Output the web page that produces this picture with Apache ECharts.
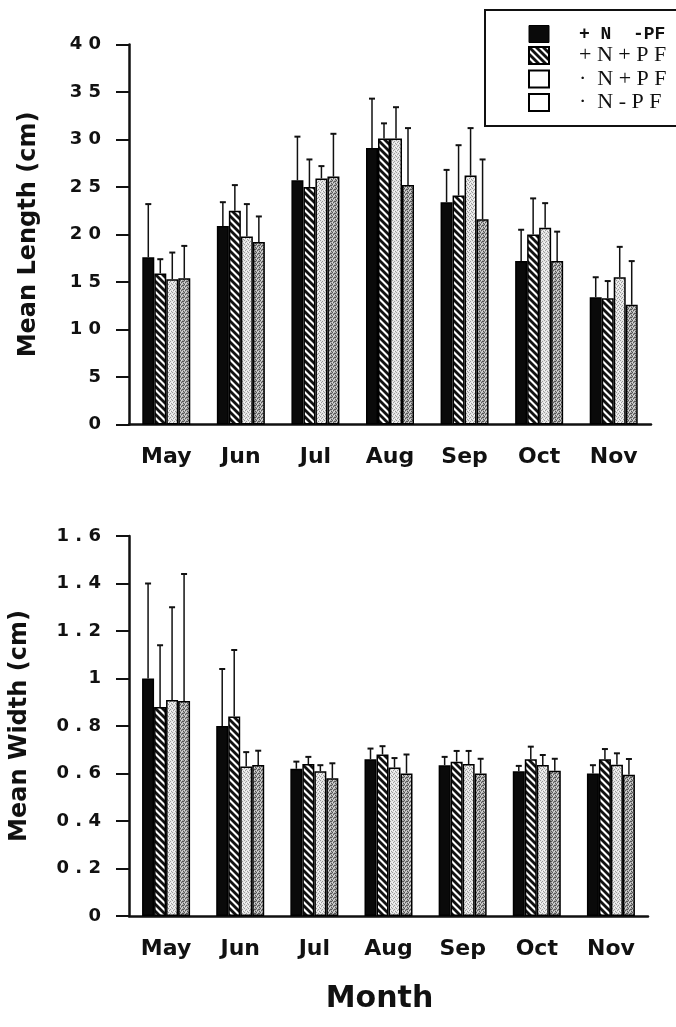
<!DOCTYPE html>
<html><head><meta charset="utf-8">
<script src="https://cdn.jsdelivr.net/npm/echarts@6/dist/echarts.min.js"></script>
<style>html,body{margin:0;padding:0;background:#fff}#c{width:676px;height:1027px}</style>
</head><body><div id="c"></div>
<script>
// ---------- DATA ----------
const months = ['May','Jun','Jul','Aug','Sep','Oct','Nov'];
const seriesNames = ['+N -PF','+N+PF','· N+PF','· N - PF'];
const legendLabels = ['+ N  -PF','+ N + P F','·  N + P F','·  N - P F'];

// Mean length (cm) and upper error (cm)
const lenPNmPF = [17.6, 20.9, 25.7, 29.1, 23.4, 17.2, 13.4];
const lenPNmPFErr = [5.6, 2.5, 4.6, 5.2, 3.4, 3.3, 2.1];
const lenPNpPF = [15.9, 22.5, 25.0, 30.1, 24.1, 20.0, 13.3];
const lenPNpPFErr = [1.5, 2.7, 2.9, 1.6, 5.3, 3.8, 1.8];
const lenMNpPF = [15.3, 19.8, 25.9, 30.1, 26.2, 20.7, 15.5];
const lenMNpPFErr = [2.8, 3.4, 1.3, 3.3, 5.0, 2.6, 3.2];
const lenMNmPF = [15.4, 19.2, 26.1, 25.2, 21.6, 17.2, 12.6];
const lenMNmPFErr = [3.4, 2.7, 4.5, 6.0, 6.3, 3.1, 4.6];

// Mean width (cm) and upper error (cm)
const widPNmPF = [1.00, 0.80, 0.62, 0.66, 0.635, 0.61, 0.60];
const widPNmPFErr = [0.40, 0.24, 0.03, 0.045, 0.035, 0.022, 0.035];
const widPNpPF = [0.88, 0.84, 0.64, 0.68, 0.65, 0.66, 0.66];
const widPNpPFErr = [0.26, 0.28, 0.03, 0.035, 0.045, 0.053, 0.043];
const widMNpPF = [0.91, 0.63, 0.61, 0.625, 0.64, 0.636, 0.637];
const widMNpPFErr = [0.39, 0.06, 0.025, 0.04, 0.055, 0.042, 0.048];
const widMNmPF = [0.905, 0.636, 0.58, 0.60, 0.60, 0.612, 0.595];
const widMNmPFErr = [0.535, 0.06, 0.063, 0.08, 0.062, 0.05, 0.066];

const lengthMeans = [lenPNmPF, lenPNpPF, lenMNpPF, lenMNmPF];
const lengthErrs = [lenPNmPFErr, lenPNpPFErr, lenMNpPFErr, lenMNmPFErr];
const widthMeans = [widPNmPF, widPNpPF, widMNpPF, widMNmPF];
const widthErrs = [widPNmPFErr, widPNpPFErr, widMNpPFErr, widMNmPFErr];

// ---------- STYLE ----------
const BAR_W = 12;
function makeCanvas(w, h, draw) {
  const c = document.createElement('canvas');
  c.width = w; c.height = h;
  draw(c.getContext('2d'));
  return c;
}
const hatch = makeCanvas(7, 7, ctx => {
  ctx.fillStyle = '#fff'; ctx.fillRect(0, 0, 7, 7);
  ctx.strokeStyle = '#111'; ctx.lineWidth = 2.8;
  for (const k of [-1, 0, 1]) {
    ctx.beginPath(); ctx.moveTo(-1, 7 * k - 1); ctx.lineTo(8, 7 * k + 8); ctx.stroke();
  }
});
const lightDots = makeCanvas(4, 4, ctx => {
  ctx.fillStyle = '#e4e4e4'; ctx.fillRect(0, 0, 4, 4);
  ctx.fillStyle = '#9c9c9c';
  [[0,0],[2,1],[1,2],[3,3]].forEach(p => ctx.fillRect(p[0], p[1], 1, 1));
  ctx.fillStyle = '#fafafa';
  [[2,3],[0,2]].forEach(p => ctx.fillRect(p[0], p[1], 1, 1));
});
const darkDots = makeCanvas(4, 4, ctx => {
  ctx.fillStyle = '#a9a9a9'; ctx.fillRect(0, 0, 4, 4);
  ctx.fillStyle = '#555';
  [[0,0],[2,1],[1,2],[3,3],[3,1]].forEach(p => ctx.fillRect(p[0], p[1], 1, 1));
  ctx.fillStyle = '#dcdcdc';
  [[2,3],[0,2],[1,0]].forEach(p => ctx.fillRect(p[0], p[1], 1, 1));
});
const fills = ['#0a0a0a', {image: hatch, repeat: 'repeat'}, {image: lightDots, repeat: 'repeat'}, {image: darkDots, repeat: 'repeat'}];
const legendIconStyles = [
  {color: '#0a0a0a', borderColor: '#000', borderWidth: 1},
  {color: {image: hatch, repeat: 'repeat'}, borderColor: '#000', borderWidth: 2},
  {color: '#fff', borderColor: '#000', borderWidth: 2},
  {color: '#fff', borderColor: '#000', borderWidth: 2}
];

const FONT = 'DejaVu Sans';
const spaced = s => String(s).split('').join(' ');

function yAxis(gridIndex, max, interval, name, nameGap, fmt) {
  return {
    type: 'value', gridIndex, min: 0, max, interval,
    name, nameLocation: 'middle', nameRotate: 90, nameGap,
    nameTextStyle: {fontFamily: FONT, fontWeight: 'bold', fontSize: 24, color: '#111'},
    axisLine: {show: true, lineStyle: {color: '#111', width: 2.5}},
    axisTick: {show: true, length: 13, lineStyle: {color: '#111', width: 2}},
    splitLine: {show: false},
    axisLabel: {margin: 28, fontFamily: FONT, fontWeight: 'bold', fontSize: 18, color: '#111', formatter: fmt}
  };
}
function xAxis(gridIndex, extra) {
  return Object.assign({
    type: 'category', gridIndex, data: months,
    axisLine: {show: true, lineStyle: {color: '#111', width: 2.5}},
    axisTick: {show: false},
    axisLabel: {margin: 22, fontFamily: FONT, fontWeight: 'bold', fontSize: 22, color: '#111'}
  }, extra || {});
}

function errSeries(gridIdx, sIdx, means, errs) {
  return {
    type: 'custom', name: 'err' + gridIdx + '_' + sIdx, xAxisIndex: gridIdx, yAxisIndex: gridIdx,
    silent: true, z: 5,
    data: means.map((m, i) => [i, m, m + errs[i]]),
    encode: {x: 0, y: [1, 2]},
    renderItem(params, api) {
      const c = api.value(0);
      const lo = api.coord([c, api.value(1)]);
      const hi = api.coord([c, api.value(2)]);
      const x = lo[0] + (sIdx - 1.5) * BAR_W;
      return {type: 'group', children: [
        {type: 'line', shape: {x1: x, y1: lo[1], x2: x, y2: hi[1]}, style: {stroke: '#111', lineWidth: 1.5}},
        {type: 'line', shape: {x1: x - 3, y1: hi[1], x2: x + 3, y2: hi[1]}, style: {stroke: '#111', lineWidth: 2}}
      ]};
    }
  };
}

const series = [];
[lengthMeans, widthMeans].forEach((group, g) => {
  group.forEach((vals, i) => {
    series.push({
      type: 'bar', name: seriesNames[i], xAxisIndex: g, yAxisIndex: g, data: vals,
      barWidth: BAR_W, barGap: '0%',
      itemStyle: {color: fills[i], borderColor: '#000', borderWidth: 1.5},
      emphasis: {disabled: true}
    });
  });
});
lengthMeans.forEach((v, i) => series.push(errSeries(0, i, v, lengthErrs[i])));
widthMeans.forEach((v, i) => series.push(errSeries(1, i, v, widthErrs[i])));

const chart = echarts.init(document.getElementById('c'), null, {renderer: 'canvas'});
chart.setOption({
  backgroundColor: '#fff',
  animation: false,
  grid: [
    {left: 129, right: 25, top: 44.5, height: 380},
    {left: 127, right: 28, top: 536, height: 380}
  ],
  legend: {
    orient: 'vertical', left: 485, top: 10, padding: [15, 45, 12.5, 43],
    itemWidth: 20, itemHeight: 17, itemGap: 1.5,
    borderColor: '#111', borderWidth: 2, selectedMode: false,
    textStyle: {fontFamily: 'Liberation Serif', fontSize: 22, color: '#111', padding: [0, 0, 0, 25]},
    formatter: name => legendLabels[seriesNames.indexOf(name)],
    data: seriesNames.map((n, i) => ({
      name: n, icon: 'rect', itemStyle: legendIconStyles[i],
      textStyle: i === 0
        ? {fontFamily: 'Liberation Mono', fontWeight: 'bold', fontSize: 18}
        : {fontFamily: 'Liberation Serif', fontSize: 22}
    }))
  },
  xAxis: [
    xAxis(0),
    xAxis(1, {name: 'Month', nameLocation: 'middle', nameGap: 68,
      nameTextStyle: {fontFamily: FONT, fontWeight: 'bold', fontSize: 30, color: '#111', padding: [0, 18, 0, 0]}})
  ],
  yAxis: [
    yAxis(0, 40, 5, 'Mean Length (cm)', 88, v => spaced(v)),
    yAxis(1, 1.6, 0.2, 'Mean Width (cm)', 97, v => spaced(+v.toFixed(1)))
  ],
  series
});
</script>
</body></html>
